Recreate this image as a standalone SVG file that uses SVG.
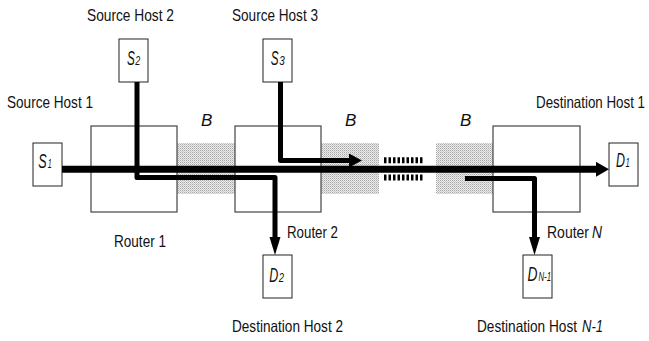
<svg xmlns="http://www.w3.org/2000/svg" width="649" height="341" viewBox="0 0 649 341">
<style>
.lbl{font-family:"Liberation Sans",Arial,sans-serif;font-size:16.5px;fill:#111}
.it{font-style:italic}
.box{fill:#fff;stroke:#222;stroke-width:1}
.rt{fill:#fff;stroke:#444;stroke-width:1.2}
.hl{font-family:"Liberation Sans",Arial,sans-serif;font-size:17px;font-style:italic;fill:#111}
.big{font-family:"Liberation Sans",Arial,sans-serif;font-size:20px;font-style:italic;fill:#111}
.sub{font-family:"Liberation Sans",Arial,sans-serif;font-size:12px;font-style:italic;fill:#111}
.thick{fill:none;stroke:#000;stroke-width:7}
.br{fill:none;stroke:#000;stroke-width:5;stroke-linejoin:round}
.dash{stroke:#000;stroke-width:6;stroke-dasharray:2.5 2}
</style>
<defs>
<pattern id="dots" width="2" height="2" patternUnits="userSpaceOnUse">
<rect width="2" height="2" fill="#ececec"/>
<rect width="1" height="1" fill="#a8a8a8"/>
<rect x="1" y="1" width="1" height="1" fill="#c8c8c8"/>
</pattern>
<marker id="ah" markerUnits="userSpaceOnUse" markerWidth="18" markerHeight="12" refX="1" refY="5.5" orient="auto" viewBox="0 0 18 11">
<path d="M0,0 L18,5.5 L0,11 z" fill="#000"/>
</marker>
<marker id="ahm" markerUnits="userSpaceOnUse" markerWidth="13" markerHeight="15" refX="1" refY="7.5" orient="auto" viewBox="0 0 13 15">
<path d="M0,0 L13,7.5 L0,15 z" fill="#000"/>
</marker>
<marker id="ahs" markerUnits="userSpaceOnUse" markerWidth="13" markerHeight="14" refX="1" refY="7" orient="auto" viewBox="0 0 13 14">
<path d="M0,0 L13,7 L0,14 z" fill="#000"/>
</marker>
</defs>
<rect width="649" height="341" fill="#fff"/>

<g id="links">
<rect x="177" y="143" width="58" height="51" fill="url(#dots)"/>
<rect x="321" y="143" width="58" height="51" fill="url(#dots)"/>
<rect x="436" y="143" width="57" height="51" fill="url(#dots)"/>
<text class="hl" x="201" y="126">B</text>
<text class="hl" x="345" y="126">B</text>
<text class="hl" x="460" y="126">B</text>
</g>

<g id="router1">
<rect class="rt" x="91" y="126" width="86" height="86"/>
<text class="lbl" x="114" y="247" textLength="52" lengthAdjust="spacingAndGlyphs">Router 1</text>
</g>
<g id="router2">
<rect class="rt" x="235" y="126" width="86" height="86"/>
<text class="lbl" x="287" y="238" textLength="51" lengthAdjust="spacingAndGlyphs">Router 2</text>
</g>
<g id="routerN">
<rect class="rt" x="493" y="126" width="87" height="86"/>
<text class="lbl" x="547" y="238" textLength="42" lengthAdjust="spacingAndGlyphs">Router</text>
<text class="lbl it" x="592" y="238" textLength="10" lengthAdjust="spacingAndGlyphs">N</text>
</g>

<g id="s1">
<rect class="box" x="33" y="143" width="29" height="43"/>
<text class="big" x="38.3" y="168" textLength="8.4" lengthAdjust="spacingAndGlyphs">S</text>
<text class="sub" x="47.7" y="168" textLength="4" lengthAdjust="spacingAndGlyphs">1</text>
<text class="lbl" x="7" y="108" textLength="86" lengthAdjust="spacingAndGlyphs">Source Host 1</text>
</g>
<g id="s2">
<rect class="box" x="119" y="39" width="29" height="43"/>
<text class="big" x="127" y="65" textLength="7.8" lengthAdjust="spacingAndGlyphs">S</text>
<text class="sub" x="135.3" y="65" textLength="5" lengthAdjust="spacingAndGlyphs">2</text>
<text class="lbl" x="87" y="21" textLength="87" lengthAdjust="spacingAndGlyphs">Source Host 2</text>
</g>
<g id="s3">
<rect class="box" x="263" y="39" width="29" height="43"/>
<text class="big" x="270.7" y="65" textLength="7.8" lengthAdjust="spacingAndGlyphs">S</text>
<text class="sub" x="279.3" y="65" textLength="5.5" lengthAdjust="spacingAndGlyphs">3</text>
<text class="lbl" x="232" y="21" textLength="86" lengthAdjust="spacingAndGlyphs">Source Host 3</text>
</g>
<g id="d1">
<rect class="box" x="609" y="143" width="29" height="43"/>
<text class="big" x="616" y="167" textLength="9" lengthAdjust="spacingAndGlyphs">D</text>
<text class="sub" x="625.5" y="167" textLength="4.3" lengthAdjust="spacingAndGlyphs">1</text>
<text class="lbl" x="536" y="108" textLength="109" lengthAdjust="spacingAndGlyphs">Destination Host 1</text>
</g>
<g id="d2">
<rect class="box" x="263" y="255" width="29" height="43"/>
<text class="big" x="269.3" y="282" textLength="9" lengthAdjust="spacingAndGlyphs">D</text>
<text class="sub" x="278.7" y="282" textLength="5.3" lengthAdjust="spacingAndGlyphs">2</text>
<text class="lbl" x="232" y="332" textLength="111" lengthAdjust="spacingAndGlyphs">Destination Host 2</text>
</g>
<g id="dn1">
<rect class="box" x="523" y="255" width="29" height="43"/>
<text class="big" x="527.5" y="281" textLength="10" lengthAdjust="spacingAndGlyphs">D</text>
<text class="sub" x="538.5" y="281" textLength="12.5" lengthAdjust="spacingAndGlyphs">N-1</text>
<text class="lbl" x="477" y="332" textLength="100" lengthAdjust="spacingAndGlyphs">Destination Host</text>
<text class="lbl it" x="582" y="332" textLength="21" lengthAdjust="spacingAndGlyphs">N-1</text>
</g>

<g id="connectors">
<line class="dash" x1="384" y1="160.3" x2="424" y2="160.3"/>
<line class="dash" x1="384" y1="177.5" x2="424" y2="177.5"/>
<line class="thick" x1="62" y1="169.3" x2="597" y2="169.3" marker-end="url(#ahm)"/>
<path class="br" d="M137,82 V177.5 H275 V238" marker-end="url(#ah)"/>
<path class="br" d="M280.5,82 V160.5 H350" marker-end="url(#ahs)"/>
<path class="br" d="M465,178.5 H534.5 V238" marker-end="url(#ah)"/>
</g>
</svg>
